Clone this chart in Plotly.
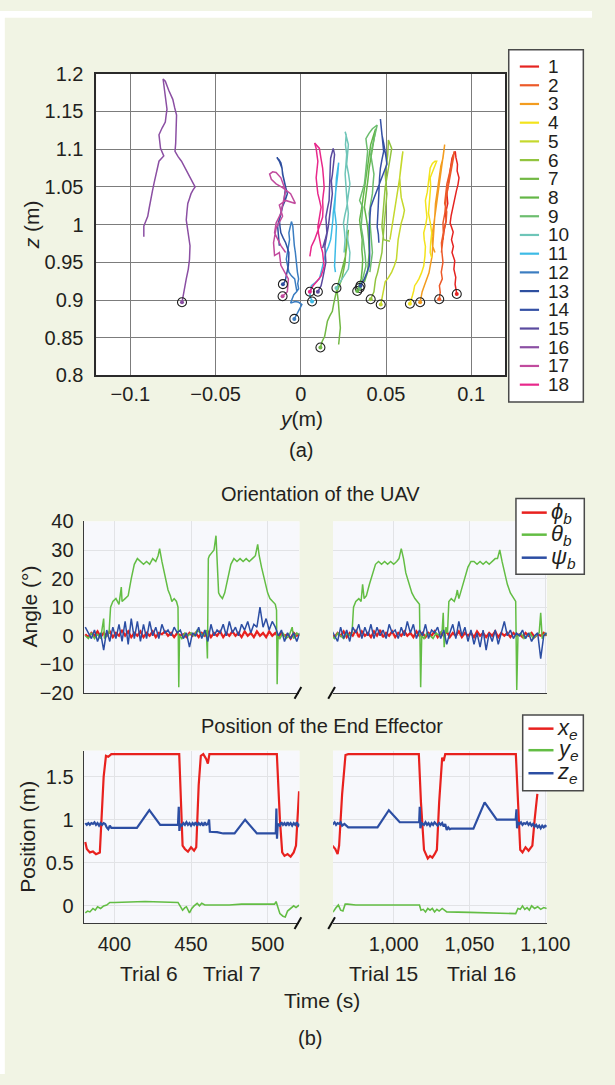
import plotly.graph_objects as go

# Figure fills the whole 615x1085 window (page margin removed after load);
# positions are given in window pixels and converted by px()/py().
W, H = 615, 1085


def px(x):
    return x / W


def py(y):
    return 1 - y / H


FONT = "Liberation Sans, Arial, Helvetica, sans-serif"
TXT = "#231f20"
BG = "#f1f4e4"
PANEL_BG = "#f7f8fc"

# ---------------- (a) trajectories: y (m) and z (m) ----------------
Y01 = [0.0915, 0.0912, 0.0905, 0.0909, 0.0898, 0.0903, 0.0887, 0.0895, 0.0884, 0.0894, 0.0876, 0.0882, 0.0891, 0.0900, 0.0913, 0.0922, 0.0928, 0.0917, 0.0919, 0.0910, 0.0906, 0.0896, 0.0887, 0.0880, 0.0872, 0.0866, 0.0857, 0.0862, 0.0849, 0.0853, 0.0844, 0.0838, 0.0834]
Z01 = [0.908, 0.914, 0.921, 0.930, 0.941, 0.952, 0.963, 0.971, 0.980, 0.990, 1.002, 1.012, 1.023, 1.034, 1.045, 1.053, 1.062, 1.071, 1.080, 1.089, 1.097, 1.093, 1.088, 1.078, 1.067, 1.055, 1.041, 1.028, 1.015, 1.006, 0.997, 0.989, 0.980]
Y02 = [0.0812, 0.0818, 0.0813, 0.0830, 0.0824, 0.0834, 0.0828, 0.0825, 0.0836, 0.0834, 0.0845, 0.0853, 0.0862, 0.0872, 0.0880, 0.0891, 0.0896, 0.0900, 0.0890, 0.0881, 0.0868, 0.0857, 0.0850, 0.0844, 0.0856, 0.0853, 0.0840, 0.0834, 0.0825]
Z02 = [0.901, 0.910, 0.919, 0.928, 0.937, 0.950, 0.963, 0.976, 0.989, 1.002, 1.015, 1.036, 1.047, 1.058, 1.069, 1.080, 1.089, 1.097, 1.086, 1.075, 1.064, 1.054, 1.041, 1.028, 1.017, 1.006, 0.993, 0.980, 0.963]
Y03 = [0.0700, 0.0706, 0.0712, 0.0726, 0.0740, 0.0752, 0.0759, 0.0770, 0.0774, 0.0768, 0.0778, 0.0786, 0.0793, 0.0800, 0.0806, 0.0818, 0.0825, 0.0834, 0.0844, 0.0838, 0.0834, 0.0822, 0.0815, 0.0806, 0.0797, 0.0790, 0.0787, 0.0782, 0.0778, 0.0774, 0.0787]
Z03 = [0.897, 0.904, 0.911, 0.920, 0.928, 0.936, 0.945, 0.958, 0.971, 0.984, 0.997, 1.010, 1.023, 1.036, 1.049, 1.062, 1.075, 1.093, 1.106, 1.097, 1.088, 1.078, 1.067, 1.054, 1.041, 1.028, 1.015, 1.002, 0.989, 0.971, 0.963]
Y04 = [0.0640, 0.0648, 0.0655, 0.0662, 0.0668, 0.0680, 0.0693, 0.0708, 0.0721, 0.0728, 0.0731, 0.0724, 0.0721, 0.0733, 0.0740, 0.0735, 0.0731, 0.0742, 0.0749, 0.0755, 0.0759, 0.0772, 0.0787, 0.0797, 0.0785, 0.0778, 0.0765, 0.0759, 0.0762, 0.0759, 0.0752, 0.0749, 0.0760, 0.0768, 0.0762, 0.0759, 0.0768]
Z04 = [0.895, 0.900, 0.906, 0.912, 0.919, 0.923, 0.928, 0.936, 0.945, 0.958, 0.971, 0.980, 0.989, 1.000, 1.010, 1.021, 1.032, 1.043, 1.054, 1.065, 1.075, 1.081, 1.084, 1.084, 1.077, 1.071, 1.066, 1.062, 1.051, 1.041, 1.028, 1.015, 1.002, 0.989, 0.976, 0.963, 0.956]
Y05 = [0.0469, 0.0474, 0.0480, 0.0488, 0.0495, 0.0515, 0.0533, 0.0548, 0.0561, 0.0566, 0.0571, 0.0580, 0.0589, 0.0600, 0.0608, 0.0598, 0.0589, 0.0584, 0.0580, 0.0585, 0.0589, 0.0594, 0.0599, 0.0594, 0.0589, 0.0580, 0.0571, 0.0562, 0.0552, 0.0543, 0.0533, 0.0523]
Z05 = [0.894, 0.900, 0.906, 0.915, 0.924, 0.930, 0.937, 0.945, 0.954, 0.967, 0.980, 0.991, 1.002, 1.010, 1.019, 1.028, 1.036, 1.049, 1.062, 1.073, 1.084, 1.090, 1.097, 1.086, 1.075, 1.062, 1.049, 1.036, 1.023, 1.010, 0.997, 0.980]
Y06 = [0.0410, 0.0420, 0.0429, 0.0434, 0.0439, 0.0450, 0.0458, 0.0468, 0.0476, 0.0480, 0.0486, 0.0490, 0.0495, 0.0500, 0.0505, 0.0498, 0.0495, 0.0503, 0.0510, 0.0514, 0.0524, 0.0533, 0.0524, 0.0514, 0.0505, 0.0495, 0.0490, 0.0486, 0.0480, 0.0476, 0.0486, 0.0523]
Z06 = [0.901, 0.906, 0.911, 0.920, 0.928, 0.936, 0.945, 0.954, 0.963, 0.976, 0.989, 1.002, 1.015, 1.028, 1.041, 1.054, 1.067, 1.080, 1.093, 1.112, 1.106, 1.101, 1.088, 1.075, 1.062, 1.049, 1.036, 1.023, 1.010, 0.997, 0.980, 0.978]
Y07 = [0.0115, 0.0125, 0.0140, 0.0147, 0.0152, 0.0156, 0.0170, 0.0185, 0.0192, 0.0198, 0.0210, 0.0222, 0.0236, 0.0250, 0.0262, 0.0269, 0.0275, 0.0279, 0.0272, 0.0269, 0.0263, 0.0260, 0.0250, 0.0241, 0.0226, 0.0213, 0.0220, 0.0222, 0.0228, 0.0232, 0.0226, 0.0222]
Z07 = [0.837, 0.845, 0.852, 0.859, 0.866, 0.872, 0.879, 0.885, 0.894, 0.902, 0.913, 0.924, 0.935, 0.945, 0.958, 0.971, 0.982, 0.993, 0.986, 0.980, 0.965, 0.950, 0.939, 0.928, 0.919, 0.911, 0.898, 0.885, 0.874, 0.863, 0.852, 0.841]
Y08 = [0.0331, 0.0342, 0.0354, 0.0360, 0.0363, 0.0358, 0.0360, 0.0352, 0.0345, 0.0355, 0.0363, 0.0372, 0.0382, 0.0390, 0.0397, 0.0404, 0.0410, 0.0425, 0.0439, 0.0430, 0.0420, 0.0410, 0.0401, 0.0394, 0.0386, 0.0380, 0.0373, 0.0383, 0.0392, 0.0398, 0.0401, 0.0396, 0.0392, 0.0373]
Z08 = [0.912, 0.920, 0.928, 0.941, 0.954, 0.967, 0.980, 0.993, 1.006, 1.019, 1.032, 1.045, 1.058, 1.071, 1.084, 1.095, 1.106, 1.117, 1.127, 1.114, 1.101, 1.088, 1.075, 1.060, 1.045, 1.034, 1.023, 1.010, 0.997, 0.980, 0.963, 0.950, 0.937, 0.924]
Y09 = [0.0345, 0.0355, 0.0363, 0.0372, 0.0382, 0.0378, 0.0373, 0.0364, 0.0354, 0.0358, 0.0363, 0.0345, 0.0360, 0.0373, 0.0378, 0.0382, 0.0387, 0.0392, 0.0386, 0.0382, 0.0400, 0.0420, 0.0448, 0.0438, 0.0429, 0.0420, 0.0410, 0.0420, 0.0429, 0.0424, 0.0420, 0.0410, 0.0401, 0.0406, 0.0410, 0.0415, 0.0420, 0.0405]
Z09 = [0.916, 0.922, 0.928, 0.936, 0.945, 0.958, 0.971, 0.984, 0.997, 1.010, 1.023, 1.032, 1.043, 1.054, 1.064, 1.075, 1.086, 1.097, 1.106, 1.114, 1.121, 1.127, 1.132, 1.123, 1.114, 1.104, 1.093, 1.080, 1.067, 1.054, 1.041, 1.028, 1.015, 1.002, 0.989, 0.976, 0.963, 0.937]
Y10 = [0.0209, 0.0225, 0.0241, 0.0262, 0.0279, 0.0285, 0.0288, 0.0278, 0.0269, 0.0274, 0.0279, 0.0272, 0.0269, 0.0264, 0.0260, 0.0265, 0.0269, 0.0262, 0.0266, 0.0260, 0.0272, 0.0279, 0.0274, 0.0269, 0.0280, 0.0288, 0.0278, 0.0269, 0.0258, 0.0250, 0.0256, 0.0260, 0.0254]
Z10 = [0.916, 0.922, 0.928, 0.935, 0.941, 0.952, 0.963, 0.976, 0.989, 1.002, 1.015, 1.028, 1.041, 1.054, 1.067, 1.080, 1.093, 1.106, 1.119, 1.123, 1.114, 1.106, 1.093, 1.080, 1.067, 1.054, 1.038, 1.023, 1.012, 1.002, 0.991, 0.980, 0.963]
Y11 = [0.0066, 0.0058, 0.0053, 0.0058, 0.0062, 0.0085, 0.0109, 0.0118, 0.0128, 0.0138, 0.0147, 0.0162, 0.0175, 0.0180, 0.0185, 0.0188, 0.0190, 0.0194, 0.0198, 0.0206, 0.0213, 0.0217, 0.0222, 0.0215, 0.0209, 0.0206, 0.0203, 0.0198, 0.0204, 0.0209, 0.0206, 0.0203, 0.0200, 0.0198, 0.0203]
Z11 = [0.898, 0.902, 0.906, 0.912, 0.919, 0.923, 0.928, 0.936, 0.945, 0.954, 0.963, 0.971, 0.980, 0.989, 0.997, 1.006, 1.015, 1.023, 1.032, 1.043, 1.054, 1.067, 1.082, 1.072, 1.062, 1.049, 1.036, 1.019, 1.008, 0.997, 0.984, 0.971, 0.958, 0.945, 0.937]
Y12 = [-0.0038, -0.0025, -0.0013, -0.0003, 0.0006, -0.0012, -0.0032, -0.0046, -0.0060, -0.0050, -0.0041, -0.0025, -0.0013, -0.0018, -0.0013, -0.0020, -0.0023, -0.0030, -0.0032, -0.0038, -0.0041, -0.0044, -0.0047, -0.0055, -0.0062, -0.0070, -0.0066, -0.0073, -0.0080, -0.0085, -0.0078, -0.0070, -0.0055, -0.0036, -0.0023]
Z12 = [0.875, 0.880, 0.885, 0.890, 0.894, 0.897, 0.898, 0.897, 0.896, 0.902, 0.907, 0.911, 0.915, 0.922, 0.928, 0.937, 0.946, 0.955, 0.963, 0.972, 0.980, 0.989, 0.998, 1.004, 0.997, 0.989, 0.980, 0.972, 0.963, 0.954, 0.946, 0.937, 0.932, 0.928, 0.911]
Y13 = [-0.0105, -0.0095, -0.0089, -0.0080, -0.0073, -0.0071, -0.0070, -0.0080, -0.0089, -0.0103, -0.0117, -0.0122, -0.0126, -0.0116, -0.0107, -0.0092, -0.0079, -0.0088, -0.0098, -0.0105, -0.0111, -0.0120, -0.0126, -0.0141, -0.0128, -0.0117, -0.0110, -0.0107, -0.0097, -0.0089, -0.0094, -0.0098, -0.0108, -0.0117, -0.0128, -0.0136, -0.0131, -0.0126]
Z13 = [0.921, 0.924, 0.928, 0.937, 0.946, 0.954, 0.963, 0.970, 0.976, 0.982, 0.989, 0.997, 1.006, 1.015, 1.024, 1.032, 1.041, 1.049, 1.058, 1.066, 1.075, 1.080, 1.084, 1.089, 1.086, 1.082, 1.075, 1.067, 1.058, 1.049, 1.041, 1.032, 1.024, 1.015, 1.006, 0.998, 0.985, 0.972]
Y14 = [0.0350, 0.0362, 0.0373, 0.0387, 0.0401, 0.0404, 0.0405, 0.0402, 0.0401, 0.0406, 0.0410, 0.0424, 0.0439, 0.0458, 0.0476, 0.0490, 0.0505, 0.0500, 0.0495, 0.0486, 0.0476, 0.0472, 0.0467, 0.0472, 0.0476, 0.0481, 0.0486, 0.0476, 0.0467, 0.0462, 0.0458, 0.0456, 0.0454, 0.0451, 0.0448, 0.0455, 0.0458]
Z14 = [0.919, 0.923, 0.928, 0.936, 0.945, 0.958, 0.971, 0.984, 0.997, 1.010, 1.023, 1.032, 1.041, 1.052, 1.062, 1.071, 1.080, 1.089, 1.097, 1.108, 1.119, 1.130, 1.140, 1.132, 1.123, 1.110, 1.097, 1.086, 1.075, 1.062, 1.049, 1.036, 1.023, 1.010, 0.997, 0.987, 0.976]
Y15 = [0.0100, 0.0110, 0.0119, 0.0128, 0.0137, 0.0142, 0.0147, 0.0144, 0.0141, 0.0148, 0.0156, 0.0161, 0.0166, 0.0171, 0.0175, 0.0180, 0.0185, 0.0182, 0.0179, 0.0185, 0.0190, 0.0194, 0.0198, 0.0190, 0.0182, 0.0175, 0.0173, 0.0171, 0.0168, 0.0166, 0.0156, 0.0147, 0.0150, 0.0153, 0.0145, 0.0137, 0.0128]
Z15 = [0.911, 0.915, 0.919, 0.928, 0.937, 0.944, 0.950, 0.960, 0.971, 0.980, 0.989, 0.997, 1.006, 1.015, 1.023, 1.032, 1.041, 1.049, 1.058, 1.066, 1.075, 1.084, 1.093, 1.101, 1.095, 1.088, 1.078, 1.067, 1.049, 1.032, 1.021, 1.010, 1.000, 0.989, 0.982, 0.976, 0.969]
Y16 = [-0.0697, -0.0687, -0.0680, -0.0672, -0.0660, -0.0653, -0.0650, -0.0655, -0.0659, -0.0666, -0.0672, -0.0668, -0.0663, -0.0654, -0.0644, -0.0632, -0.0620, -0.0632, -0.0644, -0.0658, -0.0672, -0.0686, -0.0700, -0.0720, -0.0738, -0.0734, -0.0732, -0.0730, -0.0729, -0.0740, -0.0751, -0.0775, -0.0795, -0.0808, -0.0800, -0.0792, -0.0785, -0.0790, -0.0795, -0.0814, -0.0832, -0.0823, -0.0804, -0.0832, -0.0851, -0.0860, -0.0870, -0.0876, -0.0884, -0.0891, -0.0898, -0.0921, -0.0921]
Z16 = [0.897, 0.911, 0.920, 0.928, 0.941, 0.954, 0.972, 0.980, 0.989, 0.997, 1.006, 1.017, 1.028, 1.034, 1.041, 1.046, 1.050, 1.055, 1.060, 1.066, 1.071, 1.078, 1.084, 1.090, 1.097, 1.108, 1.119, 1.132, 1.145, 1.155, 1.166, 1.178, 1.190, 1.193, 1.179, 1.166, 1.153, 1.145, 1.136, 1.128, 1.119, 1.101, 1.091, 1.084, 1.067, 1.056, 1.045, 1.036, 1.028, 1.020, 1.011, 0.998, 0.984]
Y17 = [-0.0107, -0.0079, -0.0073, -0.0095, -0.0117, -0.0126, -0.0154, -0.0160, -0.0152, -0.0145, -0.0107, -0.0126, -0.0089, -0.0032, -0.0060, -0.0107, -0.0145, -0.0173, -0.0183, -0.0165, -0.0145, -0.0117, -0.0089, -0.0103, -0.0117, -0.0145, -0.0154, -0.0117, -0.0089]
Z17 = [0.905, 0.911, 0.928, 0.937, 0.946, 0.963, 0.959, 0.976, 0.986, 0.995, 1.011, 1.026, 1.032, 1.028, 1.041, 1.049, 1.054, 1.060, 1.067, 1.070, 1.069, 1.062, 1.045, 1.030, 1.015, 1.002, 0.989, 0.972, 0.963]
Y18 = [0.0053, 0.0062, 0.0072, 0.0095, 0.0119, 0.0128, 0.0137, 0.0132, 0.0128, 0.0118, 0.0109, 0.0104, 0.0100, 0.0105, 0.0109, 0.0114, 0.0119, 0.0110, 0.0100, 0.0095, 0.0090, 0.0095, 0.0100, 0.0095, 0.0090, 0.0081, 0.0095, 0.0109, 0.0118, 0.0128, 0.0133, 0.0137, 0.0132, 0.0128, 0.0130, 0.0128, 0.0118, 0.0109, 0.0095, 0.0081, 0.0062, 0.0053]
Z18 = [0.911, 0.915, 0.919, 0.925, 0.932, 0.938, 0.945, 0.954, 0.963, 0.971, 0.980, 0.988, 0.997, 1.003, 1.010, 1.016, 1.023, 1.032, 1.041, 1.051, 1.062, 1.073, 1.084, 1.092, 1.101, 1.108, 1.105, 1.101, 1.088, 1.075, 1.062, 1.049, 1.040, 1.032, 1.021, 1.010, 1.003, 0.997, 0.988, 0.980, 0.971, 0.958]

TRIAL_LABELS = ["1", "2", "3", "4", "5", "6", "7", "8", "9", "10", "11", "12", "13", "14", "15", "16", "17", "18"]
TRIAL_COLORS = ["#e52421", "#ec5a29", "#f39c1f", "#f3e31c", "#c5d82d", "#92c43f", "#72b844", "#63b646", "#6cbd6e",
                "#6ec5b8", "#3dbbe6", "#3b7dc1", "#2e4f9f", "#3551a5", "#5a4a9f", "#8b4fa3", "#c14b9e", "#e8288b"]
A_XTICKS = [-0.1, -0.05, 0, 0.05, 0.1]
A_XTEXT = ["\u22120.1", "\u22120.05", "0", "0.05", "0.1"]
A_YTICKS = [0.8, 0.85, 0.9, 0.95, 1.0, 1.05, 1.1, 1.15, 1.2]
A_YTEXT = ["0.8", "0.85", "0.9", "0.95", "1", "1.05", "1.1", "1.15", "1.2"]

# ---------------- (b) orientation (deg) ----------------
T_L = [381, 383, 385, 387, 389, 391, 393, 395, 397, 399, 401, 403, 405, 407, 409, 411, 413, 415, 417, 419, 421, 423, 425, 427, 429, 431, 433, 435, 437, 439, 441, 443, 445, 447, 449, 451, 453, 455, 457, 459, 461, 463, 465, 467, 469, 471, 473, 475, 477, 479, 481, 483, 485, 487, 489, 491, 493, 495, 497, 499, 501, 503, 505, 507, 509, 511, 513, 515, 517, 519, 521]
PHI_L = [0.5, -0.5, 1, 0, 1.5, -0.5, 1, 0, 1.5, -0.5, 1, 0, 2, 0, 1.5, -0.5, 1, 0, 1.5, -0.5, 1, 0, 1.5, -0.5, 1, 0.5, 1.5, 0, 1, -0.5, 1, 0, 0.5, -0.5, 1, 0, 1, -0.5, 1, 0, 1.5, -0.5, 1, 0, 1.5, -0.5, 1, 0, 1.5, 0, 1, -0.5, 1.5, 0, 1, -0.5, 1.5, 0, 1, -0.5, 1.5, 0, 1, -0.5, 1, 0, 0.5, -1, 1, 0, 0.5]
PSI_L = [3, 1, -1, 2, -2, 1, -5, 2, -2, 3, -1, 4, -2, 5, -3, 6, -1, 5, -2, 4, -1, 5, 0, 3, -1, 4, 1, 2, 0, 3, 1, 2, -1, 1, -4, 1, 0, 3, -1, 2, -2, 4, 0, 2, 1, 4, 0, 5, 1, 3, 0, 4, 2, 5, 1, 4, 3, 10, 3, 6, 2, 5, 3, 0, 2, -2, 1, -1, 1, -2, 1]
TT_L = [381, 383, 385, 387, 389, 391, 393, 393.5, 395, 396.5, 397.5, 399, 401, 403, 404.5, 405, 407, 409, 411, 413, 415, 417, 419, 421, 423, 425, 427, 428.5, 429.5, 431, 433, 435, 436.5, 437.5, 439, 440.5, 441.5, 442, 442.5, 444, 446, 448, 450, 452, 454, 456, 458, 460, 460.7, 461.3, 462, 463.5, 465, 466.3, 467, 468, 469, 470.5, 472, 474, 476, 478, 480, 482, 484, 486, 488, 490, 492, 493.5, 494.5, 496, 498, 500, 501.5, 503, 505, 505.8, 506.2, 506.8, 508, 510, 512, 514, 516, 517, 519, 521]
THETA_L = [0, -1, 1, -1, 0.5, -1, 6, -1, 0, 1, 10, 12, 13, 11, 17, 12, 13, 14, 20, 25, 27, 26, 25, 26, 25, 27, 26, 28, 30.5, 26, 21, 16, 14, 12, 13, 12, 10, -18, 0, -1, 1, 0, 1, 0, 2, 1, 0, 2, -8, 27, 28, 29, 30, 35, 28, 15, 14, 13, 15, 20, 25, 27, 26, 27, 26, 27, 26, 27, 28, 32, 28, 24, 19, 15, 13, 12, 11, 9, -17, 0, -1, 1, -1, 0, 3, -1, 1, 0]

T_R = [959, 961, 963, 965, 967, 969, 971, 973, 975, 977, 979, 981, 983, 985, 987, 989, 991, 993, 995, 997, 999, 1001, 1003, 1005, 1007, 1009, 1011, 1013, 1015, 1017, 1019, 1021, 1023, 1025, 1027, 1029, 1031, 1033, 1035, 1037, 1039, 1041, 1043, 1045, 1047, 1049, 1051, 1053, 1055, 1057, 1059, 1061, 1063, 1065, 1067, 1069, 1071, 1073, 1075, 1077, 1079, 1081, 1083, 1085, 1087, 1089, 1091, 1093, 1095, 1097, 1099, 1101]
PHI_R = [0.5, -0.5, 1, 0, 1.5, -0.5, 1, 0, 2, -0.5, 1.5, 0, 1, -0.5, 1.5, 0, 2, -0.5, 1, 0, 1.5, -0.5, 1, 0, 1.5, 0, 1, -0.5, 1.5, 0, 1, -0.5, 1, 0, 1.5, -0.5, 1, 0, 1.5, -0.5, 1, 0, 1.5, -0.5, 1, 0, 1, -0.5, 1.5, 0, 1, -0.5, 1, 0, 1.5, -0.5, 1, 0, 1, -0.5, 1, 0, 0.5, -0.5, 1, 0, 1, -0.5, 0.5, 0, 1, 0]
PSI_R = [2, 0, -2, 3, -1, 2, -2, 3, 1, 4, -1, 3, 0, 4, -1, 3, 0, 2, -1, 4, 1, 2, -1, 3, 0, 5, 1, 4, -1, 2, 0, 4, -1, 2, 1, 3, -1, 2, -3, 1, 4, -1, 5, 0, 3, -2, 2, -3, 1, -4, 2, -5, 1, -2, 2, -3, 1, 5, 0, 2, -1, 1, 0, 2, -1, 1, -2, 0, 1, -8, 0, 1]
TT_R = [959, 961, 963, 965, 967, 969, 971, 972.5, 973.5, 975, 977, 978.5, 979.5, 980.5, 982, 984, 986, 988, 990, 992, 994, 996, 998, 1000, 1002, 1003.5, 1005, 1006.5, 1008, 1010, 1012, 1014, 1015.5, 1017, 1017.8, 1018.5, 1020, 1022, 1024, 1026, 1028, 1030, 1032, 1032.7, 1033.3, 1034.5, 1035.5, 1036.4, 1038, 1040, 1041.2, 1042, 1043, 1045, 1047, 1049, 1051, 1053, 1055, 1057, 1059, 1061, 1063, 1065, 1067, 1068.5, 1070, 1071.5, 1073, 1075, 1077, 1079, 1080.5, 1081.2, 1082, 1084, 1086, 1088, 1090, 1092, 1094, 1096, 1097, 1098, 1100, 1101]
THETA_R = [0, -1, 1, 0, -1, 1, 0, 1, 10, 12, 13, 12, 18, 13, 14, 18, 22, 25, 26, 25, 26, 25, 26, 25, 26, 27, 30.5, 27, 22, 18, 15, 13, 12, 11, -18, 0, -1, 1, 0, -1, 1, 0, 2, 8, -4, 3, 1, 12, 13, 12, 14, 16, 13, 17, 21, 24, 26, 26, 25, 26, 25, 26, 25, 26, 27, 27, 30, 26, 22, 18, 15, 13, 12, -19, 0, 1, -1, 0, 1, -1, 0, 1, 8, -1, 1, 0]

ANG_TICKS = [-20, -10, 0, 10, 20, 30, 40]
ANG_TEXT = ["\u221220", "\u221210", "0", "10", "20", "30", "40"]

# ---------------- (b) end-effector position (m) ----------------
XE_LT = [381, 382, 384, 386, 388, 390.5, 393, 394.5, 396, 398, 420, 442.3, 444.5, 446, 448, 450, 452, 453.4, 455, 456.4, 458, 460, 461, 462, 480, 506, 508, 509.5, 511, 513, 515, 517, 518.5, 519.5, 520.5]
XE_L = [0.74, 0.66, 0.62, 0.63, 0.6, 0.62, 1.5, 1.74, 1.73, 1.76, 1.76, 1.76, 0.7, 0.66, 0.63, 0.68, 0.64, 0.68, 1.4, 1.74, 1.76, 1.7, 1.65, 1.76, 1.76, 1.76, 1.0, 0.62, 0.58, 0.6, 0.57, 0.62, 0.7, 1.1, 1.33]
YE_LT = [381, 382.5, 384, 386, 387.5, 389, 391, 393, 395, 397, 400, 420, 441.5, 443, 444.5, 446, 447, 449, 450.5, 452, 454, 455.5, 457, 459, 462, 475, 483, 504.5, 505.5, 506.5, 508, 510, 511.5, 513, 515, 517, 518.5, 520.5]
YE_L = [-0.08, -0.06, -0.07, -0.03, -0.05, -0.01, -0.03, 0.0, 0.01, 0.04, 0.04, 0.05, 0.04, 0.0, -0.05, -0.02, -0.01, -0.08, -0.03, 0.0, 0.03, 0.0, 0.03, 0.01, 0.01, 0.01, 0.02, 0.02, 0.05, 0.0, -0.09, -0.12, -0.13, -0.06, -0.03, 0.0, -0.02, 0.01]
ZE_LT = [381, 382, 383, 384, 385, 386, 387, 388, 389, 390, 391, 392, 393, 394, 395, 396, 397, 398, 414.7, 422.8, 429.9, 441.5, 442, 442.4, 443, 444, 445, 446, 447, 448, 449, 450, 451, 452, 453, 454, 455, 456, 457, 458, 459, 460, 461, 461.8, 462.3, 467, 471, 478.4, 485.3, 493, 505.3, 505.7, 506.1, 506.6, 508, 509, 510, 511, 512, 513, 514, 515, 516, 517, 518, 519, 520, 521]
ZE_L = [0.96, 0.94, 0.96, 0.94, 0.96, 0.95, 0.97, 0.94, 0.96, 0.93, 0.96, 0.94, 0.96, 0.95, 0.91, 0.89, 0.93, 0.905, 0.905, 1.11, 0.94, 0.94, 1.15, 0.87, 0.95, 0.93, 0.96, 0.94, 0.97, 0.94, 0.96, 0.93, 0.96, 0.94, 0.97, 0.93, 0.96, 0.94, 0.96, 0.93, 0.97, 0.94, 0.95, 1.0, 0.86, 0.855, 0.84, 0.84, 1.0, 0.84, 0.84, 1.13, 0.78, 0.95, 0.93, 0.97, 0.94, 0.96, 0.93, 0.97, 0.94, 0.96, 0.93, 0.96, 0.94, 0.97, 0.93, 0.95]

XE_RT = [959, 960, 961.5, 963, 964, 966, 968.2, 970, 1016.6, 1018, 1020, 1021, 1022.5, 1024, 1025.5, 1027, 1028.5, 1030, 1032, 1033, 1034, 1080.6, 1082, 1083.5, 1085, 1087, 1089, 1091.5, 1093, 1094.8]
XE_R = [0.68, 0.69, 0.66, 0.6, 0.7, 1.3, 1.75, 1.76, 1.76, 1.2, 0.65, 0.6, 0.55, 0.58, 0.56, 0.6, 0.65, 1.2, 1.72, 1.68, 1.76, 1.76, 1.2, 0.65, 0.62, 0.68, 0.64, 0.7, 1.0, 1.3]
YE_RT = [959, 960.5, 962, 963.5, 965, 966.5, 968, 969.5, 975, 990, 1000, 1017, 1018, 1019.5, 1021, 1022.5, 1024, 1025.5, 1027, 1028.5, 1030, 1032, 1033.5, 1035, 1050, 1062, 1070, 1080.5, 1082, 1083.5, 1085, 1086.5, 1088, 1089.5, 1091, 1093, 1095, 1097, 1099, 1101]
YE_R = [-0.08, -0.06, -0.02, 0.01, -0.05, -0.06, 0.02, 0.02, 0.01, 0.01, 0.015, 0.01, -0.05, -0.04, -0.07, -0.03, -0.05, -0.03, -0.07, -0.04, -0.06, -0.03, -0.05, -0.07, -0.075, -0.08, -0.09, -0.09, -0.03, -0.04, 0.0, -0.04, -0.02, -0.05, 0.0, -0.03, -0.01, -0.04, -0.02, -0.03]
ZE_RT = [959, 960, 961, 962, 963, 964, 965, 966, 967.5, 969, 970, 989.3, 996.8, 1004, 1016.8, 1017.2, 1017.6, 1018.5, 1020, 1021, 1022, 1023, 1024, 1025, 1026, 1027, 1028, 1029, 1030, 1031, 1032, 1033, 1034, 1035, 1036, 1037, 1038, 1052.6, 1060, 1068, 1080.5, 1081, 1081.4, 1082, 1083, 1084, 1085, 1086, 1087, 1088, 1089, 1090, 1091, 1092, 1093, 1094, 1095, 1096, 1097, 1098, 1099, 1100, 1101]
ZE_R = [0.96, 0.95, 0.97, 0.94, 0.96, 0.95, 0.97, 0.93, 0.95, 0.92, 0.91, 0.91, 1.11, 0.97, 0.97, 1.15, 0.9, 0.96, 0.94, 0.97, 0.94, 0.96, 0.93, 0.96, 0.94, 0.97, 0.95, 0.93, 0.96, 0.94, 0.96, 0.92, 0.95, 0.88, 0.91, 0.89, 0.895, 0.895, 1.2, 1.0, 1.0, 1.12, 0.9, 0.97, 0.95, 0.97, 0.94, 0.96, 0.95, 0.97, 0.94, 0.96, 0.93, 0.95, 0.92, 0.94, 0.91, 0.93, 0.9, 0.93, 0.91, 0.93, 0.92]

POS_TICKS = [0, 0.5, 1, 1.5]
POS_TEXT = ["0", "0.5", "1", "1.5"]
TIME_TICKS_L = [400, 450, 500]
TIME_TEXT_L = ["400", "450", "500"]
TIME_TICKS_R = [1000, 1050, 1100]
TIME_TEXT_R = ["1,000", "1,050", "1,100"]
TRIALS = ["Trial 6", "Trial 7", "Trial 15", "Trial 16"]

ANG_NAMES = ["<i>\u03d5<sub>b</sub></i>", "<i>\u03b8<sub>b</sub></i>", "<i>\u03c8<sub>b</sub></i>"]
POS_NAMES = ["<i>x<sub>e</sub></i>", "<i>y<sub>e</sub></i>", "<i>z<sub>e</sub></i>"]
RED, GREEN, BLUE = "#e8211e", "#63bd44", "#2c4ea3"

# ---------------- figure ----------------
fig = go.Figure()

TRAJ_Y = [Y01, Y02, Y03, Y04, Y05, Y06, Y07, Y08, Y09, Y10, Y11, Y12, Y13, Y14, Y15, Y16, Y17, Y18]
TRAJ_Z = [Z01, Z02, Z03, Z04, Z05, Z06, Z07, Z08, Z09, Z10, Z11, Z12, Z13, Z14, Z15, Z16, Z17, Z18]

for i in range(18):
    n = min(len(TRAJ_Y[i]), len(TRAJ_Z[i]))
    fig.add_trace(go.Scatter(x=TRAJ_Y[i][:n], y=TRAJ_Z[i][:n], mode="lines",
                             line=dict(color=TRIAL_COLORS[i], width=1.5),
                             name=TRIAL_LABELS[i], xaxis="x", yaxis="y",
                             showlegend=False, hoverinfo="skip"))

start_y = [ys[0] for ys in TRAJ_Y]
start_z = [zs[0] for zs in TRAJ_Z]
fig.add_trace(go.Scatter(x=start_y, y=start_z, mode="markers", xaxis="x", yaxis="y",
                         marker=dict(symbol="circle-open", size=9, color="#1e1e1e", line=dict(width=1.1)),
                         showlegend=False, hoverinfo="skip"))
fig.add_trace(go.Scatter(x=start_y, y=start_z, mode="markers", xaxis="x", yaxis="y",
                         marker=dict(symbol="circle", size=4, color=TRIAL_COLORS),
                         showlegend=False, hoverinfo="skip"))


def add_line(xs, ys, color, width, xa, ya):
    n = min(len(xs), len(ys))
    fig.add_trace(go.Scatter(x=xs[:n], y=ys[:n], mode="lines", line=dict(color=color, width=width),
                             xaxis=xa, yaxis=ya, showlegend=False, hoverinfo="skip"))


# orientation
add_line(T_L, PHI_L, RED, 2.2, "x2", "y2")
add_line(TT_L, THETA_L, GREEN, 1.5, "x2", "y2")
add_line(T_L, PSI_L, BLUE, 1.5, "x2", "y2")
add_line(T_R, PHI_R, RED, 2.2, "x3", "y3")
add_line(TT_R, THETA_R, GREEN, 1.5, "x3", "y3")
add_line(T_R, PSI_R, BLUE, 1.5, "x3", "y3")
# position
add_line(XE_LT, XE_L, RED, 2.2, "x4", "y4")
add_line(YE_LT, YE_L, GREEN, 1.6, "x4", "y4")
add_line(ZE_LT, ZE_L, BLUE, 2.2, "x4", "y4")
add_line(XE_RT, XE_R, RED, 2.2, "x5", "y5")
add_line(YE_RT, YE_R, GREEN, 1.6, "x5", "y5")
add_line(ZE_RT, ZE_R, BLUE, 2.2, "x5", "y5")

TICKFONT = dict(family=FONT, size=20, color=TXT)
GRID_B = "#e2e3e6"

LEFT_X = [px(87), px(311)]
RIGHT_X = [px(346), px(568)]
ANG_Y = [py(696), py(521)]
POS_Y = [py(931), py(755)]


def b_x(domain, rng, tv, tt, show, anchor):
    return dict(domain=domain, range=rng, tickvals=tv, ticktext=tt, showticklabels=show,
                showgrid=True, gridcolor=GRID_B, gridwidth=1, zeroline=False,
                showline=True, linecolor="#3a3a3a", linewidth=1.3, ticks="",
                tickfont=TICKFONT, anchor=anchor, ticklabelstandoff=3)


def b_y(domain, rng, tv, tt, show, anchor):
    return dict(domain=domain, range=rng, tickvals=tv, ticktext=tt, showticklabels=show,
                showgrid=True, gridcolor=GRID_B, gridwidth=1, zeroline=False,
                showline=show, linecolor="#3a3a3a", linewidth=1.3, ticks="",
                tickfont=TICKFONT, anchor=anchor, ticklabelstandoff=5)


fig.update_layout(
    width=W, height=H, autosize=False,
    margin=dict(l=0, r=0, t=0, b=0),
    paper_bgcolor=BG, plot_bgcolor="white",
    showlegend=False,
    font=dict(family=FONT, size=20, color=TXT),
    xaxis=dict(domain=[px(100), px(525)], range=[-0.12, 0.12], tickvals=A_XTICKS, ticktext=A_XTEXT,
               showgrid=True, gridcolor="#7c7c7c", gridwidth=1, zeroline=False,
               showline=True, mirror=True, linecolor="#2a2a2a", linewidth=1.5, ticks="",
               tickfont=TICKFONT, anchor="y", ticklabelstandoff=0),
    yaxis=dict(domain=[py(372), py(64)], range=[0.8, 1.2], tickvals=A_YTICKS, ticktext=A_YTEXT,
               showgrid=True, gridcolor="#7c7c7c", gridwidth=1, zeroline=False,
               showline=True, mirror=True, linecolor="#2a2a2a", linewidth=1.5, ticks="",
               tickfont=TICKFONT, anchor="x", ticklabelstandoff=7),
    xaxis2=b_x(LEFT_X, [380, 520.7], TIME_TICKS_L, TIME_TEXT_L, False, "y2"),
    yaxis2=b_y(ANG_Y, [-20, 40], ANG_TICKS, ANG_TEXT, True, "x2"),
    xaxis3=b_x(RIGHT_X, [960, 1101], TIME_TICKS_R, TIME_TEXT_R, False, "y3"),
    yaxis3=b_y(ANG_Y, [-20, 40], ANG_TICKS, ANG_TEXT, False, "x3"),
    xaxis4=b_x(LEFT_X, [380, 520.7], TIME_TICKS_L, TIME_TEXT_L, True, "y4"),
    yaxis4=b_y(POS_Y, [-0.2, 1.8], POS_TICKS, POS_TEXT, True, "x4"),
    xaxis5=b_x(RIGHT_X, [960, 1101], TIME_TICKS_R, TIME_TEXT_R, True, "y5"),
    yaxis5=b_y(POS_Y, [-0.2, 1.8], POS_TICKS, POS_TEXT, False, "x5"),
)

shapes = []
# thin white page edge at the left and top, as in the scanned figure
shapes.append(dict(type="rect", xref="paper", yref="paper", x0=0, x1=px(5), y0=0, y1=1,
                   fillcolor="white", line=dict(width=0), layer="below"))
shapes.append(dict(type="rect", xref="paper", yref="paper", x0=0, x1=1, y0=py(7), y1=1,
                   fillcolor="white", line=dict(width=0), layer="below"))
# panel backgrounds for (b)
for k in ["2", "3", "4", "5"]:
    shapes.append(dict(type="rect", xref="x%s domain" % k, yref="y%s domain" % k, x0=0, x1=1, y0=0, y1=1,
                       fillcolor=PANEL_BG, line=dict(width=0), layer="below"))

annotations = []

# legend (a)
shapes.append(dict(type="rect", xref="paper", yref="paper", x0=px(528.5), x1=px(606), y0=py(399), y1=py(39.5),
                   fillcolor="white", line=dict(color="#4a4a4a", width=1.5), layer="above"))
for i, lab in enumerate(TRIAL_LABELS):
    yy = 56.7 + 19.1 * i
    shapes.append(dict(type="line", xref="paper", yref="paper", x0=px(540), x1=px(560), y0=py(yy), y1=py(yy),
                       line=dict(color=TRIAL_COLORS[i], width=2.2), layer="above"))
    annotations.append(dict(text=lab, x=px(567.5), y=py(yy), xref="paper", yref="paper", xanchor="left",
                            yanchor="middle", showarrow=False, font=dict(family=FONT, size=19, color=TXT)))

# legend (b) orientation
shapes.append(dict(type="rect", xref="paper", yref="paper", x0=px(536), x1=px(607), y0=py(575), y1=py(497.5),
                   fillcolor="white", line=dict(color="#4a4a4a", width=1.5), layer="above"))
for i, (nm, col) in enumerate(zip(ANG_NAMES, [RED, GREEN, BLUE])):
    yy = [512, 534.5, 558][i]
    shapes.append(dict(type="line", xref="paper", yref="paper", x0=px(542), x1=px(568), y0=py(yy), y1=py(yy),
                       line=dict(color=col, width=2.5), layer="above"))
    annotations.append(dict(text=nm, x=px(570), y=py(yy), xref="paper", yref="paper", xanchor="left",
                            yanchor="middle", showarrow=False, font=dict(family=FONT, size=22, color=TXT)))

# legend (b) position
shapes.append(dict(type="rect", xref="paper", yref="paper", x0=px(543), x1=px(606), y0=py(796), y1=py(718.5),
                   fillcolor="white", line=dict(color="#4a4a4a", width=1.5), layer="above"))
for i, (nm, col) in enumerate(zip(POS_NAMES, [RED, GREEN, BLUE])):
    yy = [732.5, 754.5, 778][i]
    shapes.append(dict(type="line", xref="paper", yref="paper", x0=px(549), x1=px(575), y0=py(yy), y1=py(yy),
                       line=dict(color=col, width=2.5), layer="above"))
    annotations.append(dict(text=nm, x=px(577), y=py(yy), xref="paper", yref="paper", xanchor="left",
                            yanchor="middle", showarrow=False, font=dict(family=FONT, size=22, color=TXT)))

# axis-break marks
for (ybot, ytop) in [(702, 690), (937, 925)]:
    for (xa, xb) in [(306, 313), (341, 348)]:
        shapes.append(dict(type="line", xref="paper", yref="paper", x0=px(xa), x1=px(xb), y0=py(ybot), y1=py(ytop),
                           line=dict(color="#111111", width=2), layer="above"))


def note(text, x, y, size=21, angle=0):
    annotations.append(dict(text=text, x=px(x), y=py(y), xref="paper", yref="paper", xanchor="center",
                            yanchor="middle", showarrow=False, textangle=angle,
                            font=dict(family=FONT, size=size, color=TXT)))


note("<i>z</i> (m)", 33, 218, 21, -90)
note("<i>y</i>(m)", 312.5, 416, 21)
note("(a)", 313, 448, 20)
note("Orientation of the UAV", 333, 493, 20)
note("Angle (\u00b0)", 31, 608, 21, -90)
note("Position of the End Effector", 335, 730, 20)
note("Position (m)", 29, 843, 21, -90)
for lab, xx in zip(TRIALS, [155, 241, 398, 500]):
    note(lab, xx, 982, 21)
note("Time (s)", 334, 1010, 21)
note("(b)", 322, 1048, 20)

fig.update_layout(shapes=shapes, annotations=annotations)

fig.write_html("out.html", config={"displayModeBar": False},
               post_script="document.body.style.margin='0px';document.body.style.overflow='hidden';")
